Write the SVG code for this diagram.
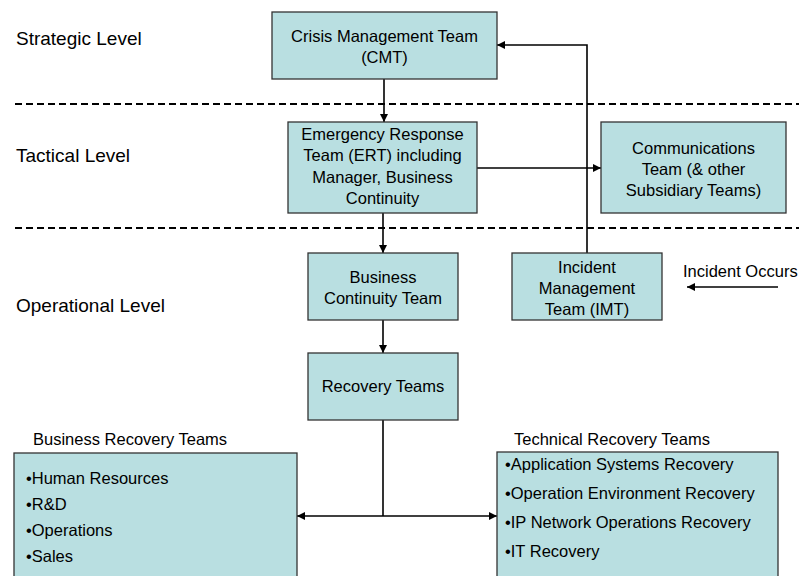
<svg xmlns="http://www.w3.org/2000/svg" width="799" height="576" viewBox="0 0 799 576">
<style>
.box{fill:#b9dfe1;stroke:#333;stroke-width:1.3}
.t{font-family:"Liberation Sans",Arial,sans-serif;font-size:16.5px;fill:#000}
.c{text-anchor:middle}
.lvl{font-family:"Liberation Sans",Arial,sans-serif;font-size:19px;fill:#000}
.ln{fill:none;stroke:#000;stroke-width:1.6}
.dash{fill:none;stroke:#000;stroke-width:2;stroke-dasharray:7 4}
</style>
<defs>
<marker id="ah" viewBox="0 0 10 10" refX="10" refY="5" markerWidth="8" markerHeight="8" markerUnits="userSpaceOnUse" orient="auto">
<path d="M0,0 L10,5 L0,10 z" fill="#000"/>
</marker>
</defs>
<rect width="799" height="576" fill="#fff"/>
<g id="levels">
<text class="lvl" x="16" y="45">Strategic Level</text>
<text class="lvl" x="16" y="162">Tactical Level</text>
<text class="lvl" x="16" y="312">Operational Level</text>
<line class="dash" x1="15" y1="104" x2="799" y2="104"/>
<line class="dash" x1="15" y1="228" x2="799" y2="228"/>
</g>
<g id="connectors">
<line class="ln" x1="384" y1="79" x2="384" y2="122" marker-end="url(#ah)"/>
<line class="ln" x1="477" y1="168" x2="601" y2="168" marker-end="url(#ah)"/>
<line class="ln" x1="383" y1="213" x2="383" y2="253" marker-end="url(#ah)"/>
<polyline class="ln" points="587,253 587,45 497,45" marker-end="url(#ah)"/>
<line class="ln" x1="778" y1="287" x2="687" y2="287" marker-end="url(#ah)"/>
<line class="ln" x1="383" y1="320" x2="383" y2="353" marker-end="url(#ah)"/>
<polyline class="ln" points="383,420 383,516"/>
<line class="ln" x1="383" y1="516" x2="297" y2="516" marker-end="url(#ah)"/>
<line class="ln" x1="383" y1="516" x2="497" y2="516" marker-end="url(#ah)"/>
</g>
<g id="cmt">
<rect class="box" x="272" y="12" width="225" height="67"/>
<text class="t c" x="384.5" y="42">Crisis Management Team</text>
<text class="t c" x="384.5" y="63">(CMT)</text>
</g>
<g id="ert">
<rect class="box" x="288" y="122" width="189" height="91"/>
<text class="t c" x="382.5" y="140">Emergency Response</text>
<text class="t c" x="382.5" y="161">Team (ERT) including</text>
<text class="t c" x="382.5" y="183">Manager, Business</text>
<text class="t c" x="382.5" y="204">Continuity</text>
</g>
<g id="comm">
<rect class="box" x="601" y="122" width="185" height="91"/>
<text class="t c" x="693.5" y="154">Communications</text>
<text class="t c" x="693.5" y="175">Team (&amp; other</text>
<text class="t c" x="693.5" y="196">Subsidiary Teams)</text>
</g>
<g id="bct">
<rect class="box" x="308" y="253" width="150" height="67"/>
<text class="t c" x="383" y="283">Business</text>
<text class="t c" x="383" y="304">Continuity Team</text>
</g>
<g id="imt">
<rect class="box" x="512" y="253" width="150" height="67"/>
<text class="t c" x="587" y="273">Incident</text>
<text class="t c" x="587" y="294">Management</text>
<text class="t c" x="587" y="315">Team (IMT)</text>
</g>
<g id="incident">
<text class="t" x="683" y="277">Incident Occurs</text>
</g>
<g id="recovery">
<rect class="box" x="308" y="353" width="150" height="67"/>
<text class="t c" x="383" y="392">Recovery Teams</text>
</g>
<g id="business">
<text class="t" x="33" y="445">Business Recovery Teams</text>
<rect class="box" x="14" y="453" width="283" height="130"/>
<text class="t" x="26" y="484">•Human Resources</text>
<text class="t" x="26" y="510">•R&amp;D</text>
<text class="t" x="26" y="536">•Operations</text>
<text class="t" x="26" y="562">•Sales</text>
</g>
<g id="technical">
<text class="t" x="514" y="445">Technical Recovery Teams</text>
<rect class="box" x="497" y="452" width="281" height="130"/>
<text class="t" x="505" y="470">•Application Systems Recovery</text>
<text class="t" x="505" y="499">•Operation Environment Recovery</text>
<text class="t" x="505" y="528">•IP Network Operations Recovery</text>
<text class="t" x="505" y="557">•IT Recovery</text>
</g>
</svg>
